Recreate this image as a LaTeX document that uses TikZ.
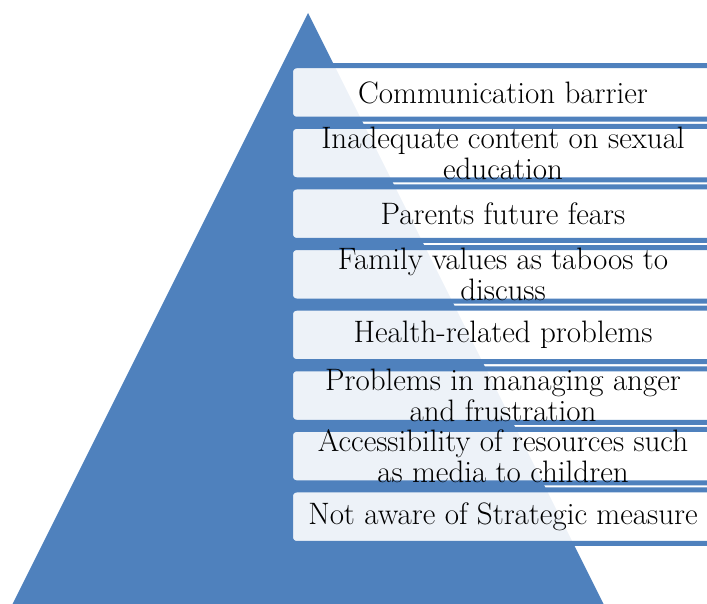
\documentclass[tikz,border=0pt]{standalone}
\usetikzlibrary{positioning}

\definecolor{pyrblue}{RGB}{79,129,189}

\begin{document}
\begin{tikzpicture}[
    x=1pt, y=-1pt,
    node distance=2.1pt,
    box/.style={rectangle, draw=pyrblue, line width=5pt, rounded corners=6pt, fill=white, fill opacity=0.9, minimum height=53.5pt, minimum width=425pt, inner sep=0pt},
    txt/.style={align=center, text=black, text opacity=1, inner sep=0pt, font=\fontsize{31}{31}\selectfont}
]
\useasboundingbox (0,0) rectangle (707,604);
\clip (0,0) rectangle (707,604);

% pyramid
\fill[pyrblue] (308,13) -- (605,607) -- (11,607) -- cycle;

% list boxes, top to bottom
\node[box, label={[txt]center:Communication barrier}] (barrier) at (503,92.5) {};
\node[box, below=of barrier, label={[txt]center:Inadequate content on sexual\\education}] (content) {};
\node[box, below=of content, label={[txt]center:Parents future fears}] (fears) {};
\node[box, below=of fears, label={[txt]center:Family values as taboos to\\discuss}] (values) {};
\node[box, below=of values, label={[txt]center:Health-related problems}] (health) {};
\node[box, below=of health, label={[txt]center:Problems in managing anger\\and frustration}] (anger) {};
\node[box, below=of anger, label={[txt]center:Accessibility of resources such\\as media to children}] (access) {};
\node[box, below=of access, label={[txt]center:Not aware of Strategic measure}] (measure) {};

\end{tikzpicture}
\end{document}
